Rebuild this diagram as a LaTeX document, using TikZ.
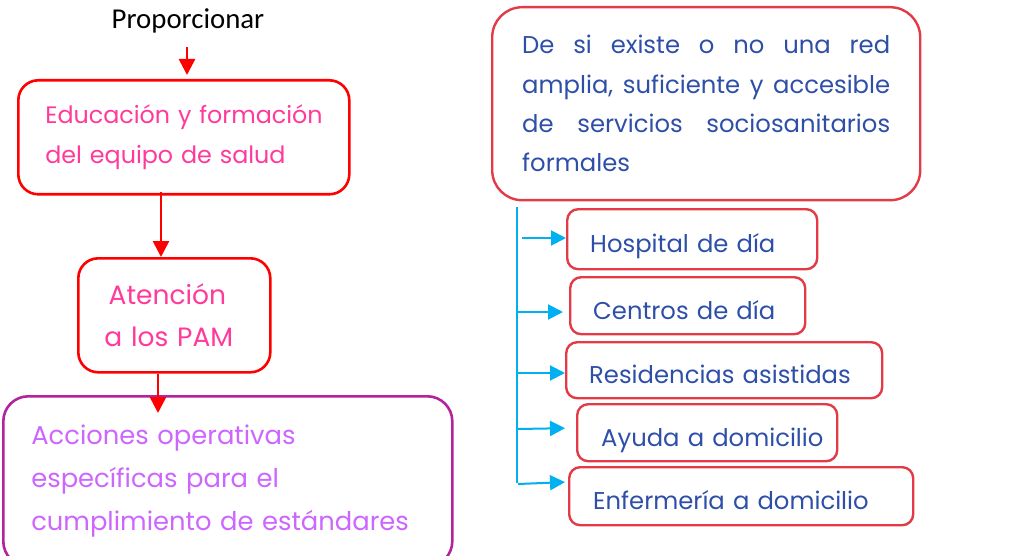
\documentclass[tikz,border=0pt]{standalone}
\usepackage{fontspec}
\setmainfont{Poppins}
\newfontfamily\propfont{Carlito}
\usetikzlibrary{arrows.meta}
\definecolor{lred}{HTML}{FF0000}
\definecolor{rred}{HTML}{E33A48}
\definecolor{pinktxt}{HTML}{FF3A9A}
\definecolor{violtxt}{HTML}{CC66FF}
\definecolor{purpbox}{HTML}{B2249E}
\definecolor{bluetxt}{HTML}{2E4FA8}
\definecolor{cyanln}{HTML}{00B0F0}
\tikzset{
  lbox/.style={draw=lred, line width=2.6pt, rounded corners=20pt, anchor=north west, align=left, inner sep=0pt},
  rbox/.style={draw=rred, line width=2.4pt, rounded corners=11pt, anchor=north west, align=left, inner sep=0pt, text=bluetxt, font=\fontsize{24.3}{28}\selectfont, text height=27pt, text depth=0pt},
  redarrow/.style={draw=lred, line width=2.6pt, -{Triangle[length=16pt,width=16pt]}},
  cyanarrow/.style={draw=cyanln, line width=2pt, -{Triangle[length=15pt,width=15pt]}}
}
\newcommand{\jline}[1]{\leavevmode\hbox to 368pt{#1}}
\begin{document}
\begin{tikzpicture}[x=1pt,y=-1pt]
\useasboundingbox (0,0) rectangle (1030,556);
% left column
\node[font=\propfont\fontsize{28.8}{30}\selectfont, inner sep=0pt] (prop) at (188,21) {Proporcionar};
\node[lbox, minimum width=331pt, minimum height=114pt, text width=277pt, text=pinktxt, font=\fontsize{23.8}{40}\selectfont] (b1) at (17,79)
  {\mbox{Educación y formación}\\\mbox{del equipo de salud}};
\node[lbox, minimum width=192pt, minimum height=114pt, text width=140pt, text=pinktxt, font=\fontsize{26.5}{42}\selectfont] (b2) at (77,257)
  {\mbox{\,Atención}\\\mbox{a los PAM}};
\node[lbox, draw=purpbox, rounded corners=25pt, minimum width=449pt, minimum height=170pt, text width=393pt, text=violtxt, font=\fontsize{25.8}{43}\selectfont] (b3) at (2,395)
  {\mbox{Acciones operativas}\\\mbox{específicas para el}\\\mbox{cumplimiento de estándares}};
\coordinate (p1) at (187,47);
\coordinate (x1) at (161,0);
\coordinate (x2) at (158,0);
\draw[redarrow, shorten >=4pt] (p1) -- (p1 |- b1.north);
\draw[redarrow] (b1.south -| x1) ++(0,4pt) -- (b2.north -| x1);
\draw[redarrow, shorten >=-18pt] (b2.south -| x2) -- (b3.north -| x2);
% right column
\node[rbox, rounded corners=30pt, minimum width=428pt, minimum height=193pt, text width=368pt, font=\fontsize{24.3}{39.3}\selectfont, text height=, text depth=] (big) at (491,6)
  {\jline{De\hfill si\hfill existe\hfill o\hfill no\hfill una\hfill red}\\
   \jline{amplia,\hfill suficiente\hfill y\hfill accesible}\\
   \jline{de\hfill servicios\hfill sociosanitarios}\\
   formales};
\node[rbox, minimum width=250pt, minimum height=60pt, text width=204pt] (h1) at (566,208) {\mbox{Hospital de día}};
\node[rbox, minimum width=235pt, minimum height=57pt, text width=189pt] (h2) at (569,276) {\mbox{Centros de día}};
\node[rbox, minimum width=316pt, minimum height=56pt, text width=270pt] (h3) at (565,341) {\mbox{Residencias asistidas}};
\node[rbox, minimum width=260pt, minimum height=57pt, text width=212pt] (h4) at (576,403) {\mbox{Ayuda a domicilio}};
\node[rbox, minimum width=344pt, minimum height=58pt, text width=296pt] (h5) at (568,466) {\mbox{Enfermería a domicilio}};
\coordinate (ttop) at (517,207);
\coordinate (tbot) at (517,483);
\draw[cyanln, line width=2pt] (ttop) -- (tbot);
\coordinate (t1) at (522,238);
\coordinate (t2) at (518,312);
\coordinate (t3) at (518,373);
\coordinate (t4) at (518,429);
\coordinate (t5) at (518,484);
\draw[cyanarrow] (t1) -- (t1 -| h1.west);
\draw[cyanarrow, shorten >=6pt] (t2) -- (t2 -| h2.west);
\draw[cyanarrow] (t3) -- (t3 -| h3.west);
\draw[cyanarrow, shorten >=11pt] (t4) -- ([yshift=1pt]t4 -| h4.west);
\draw[cyanarrow, shorten >=3pt] (t5) -- ([yshift=2pt]t5 -| h5.west);
\end{tikzpicture}
\end{document}
